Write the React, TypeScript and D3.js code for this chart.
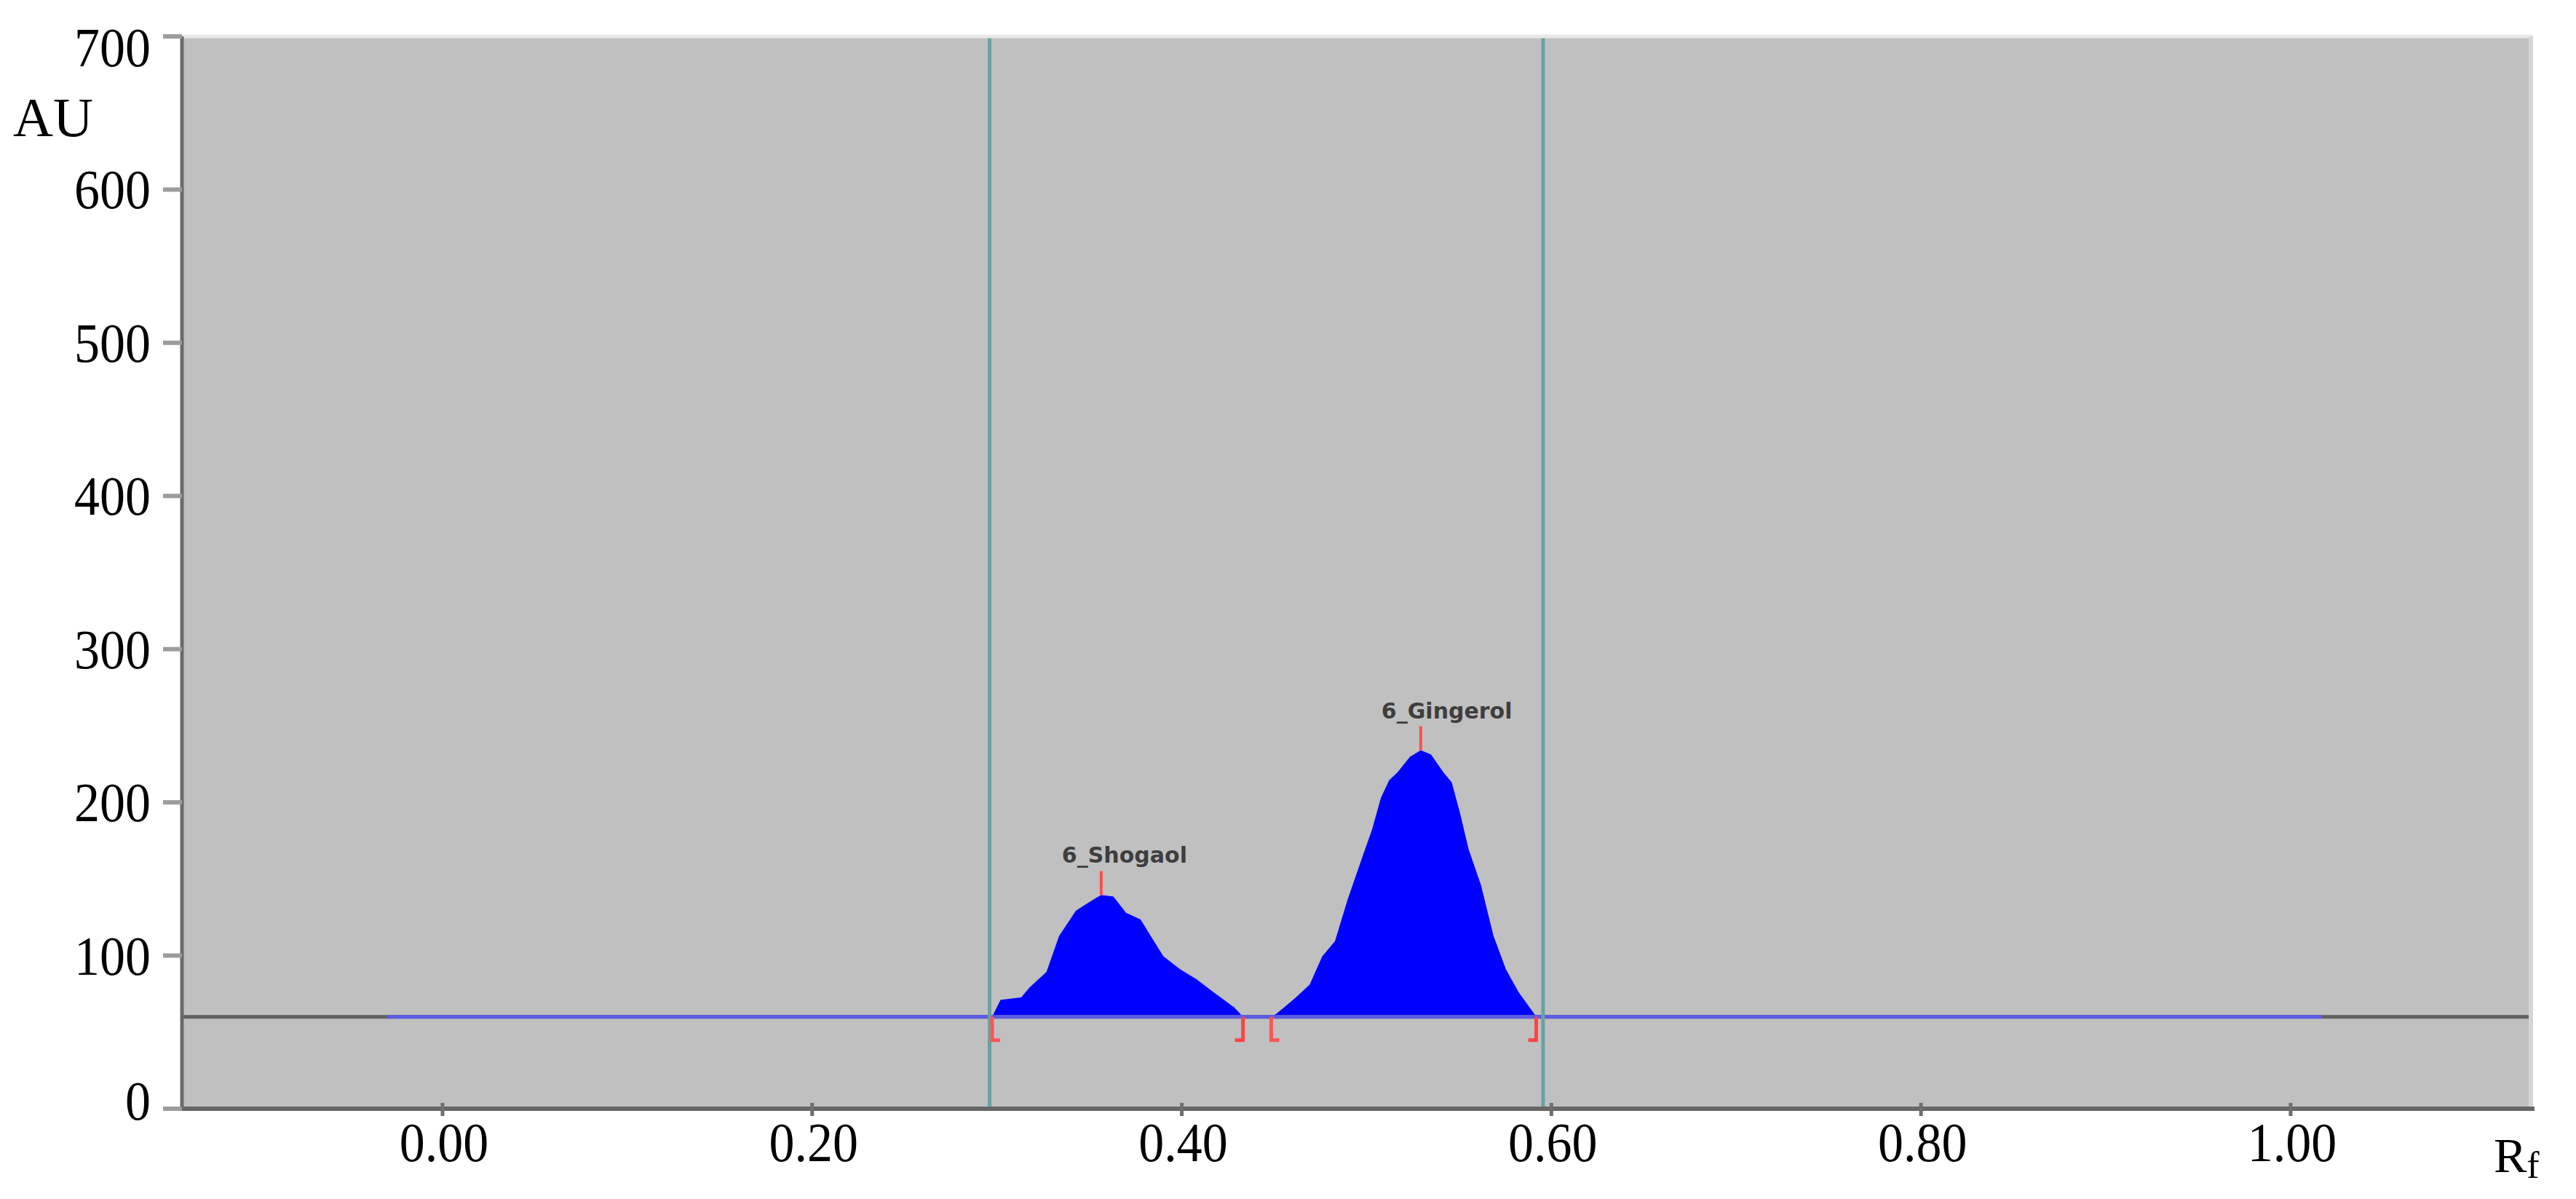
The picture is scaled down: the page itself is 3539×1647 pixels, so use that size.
import React from 'react';
import * as d3 from 'd3';

// Densitogram values (Rf vs AU)
const baselineAU = 60;
const scanRange = [-0.03, 1.017];
const windowLines = [0.296, 0.5955];

const shogaolRf = [0.2974, 0.3019, 0.3131, 0.3178, 0.3268, 0.3336, 0.3427, 0.3471, 0.354, 0.3564, 0.363, 0.3698, 0.3777, 0.3832, 0.3901, 0.3992, 0.4082, 0.4172, 0.4285, 0.4331];
const shogaolAU = [60, 71, 72.7, 79.4, 89.4, 112.7, 129.3, 132.7, 137.9, 139.5, 138.5, 128, 123.6, 112.7, 99.4, 91, 84.4, 76, 66, 60];

const gingerolRf = [0.4484, 0.4512, 0.4602, 0.4692, 0.476, 0.4829, 0.4896, 0.4963, 0.5031, 0.5077, 0.5122, 0.5167, 0.5234, 0.5293, 0.5349, 0.5416, 0.5461, 0.5506, 0.5552, 0.5619, 0.5687, 0.5754, 0.5823, 0.5902, 0.5918];
const gingerolAU = [60, 62, 71, 81, 99.4, 109.4, 136, 159.4, 182.8, 202.8, 214.5, 219.5, 229.7, 234, 231.2, 219.5, 213, 192.8, 169.4, 146, 112.7, 91, 76, 62.8, 60];

const peakNames = ['6_Shogaol', '6_Gingerol'];

const xTicks = [0, 0.2, 0.4, 0.6, 0.8, 1.0];
const yTicks = [0, 100, 200, 300, 400, 500, 600, 700];

const W = 3539;
const H = 1647;
const margin = { top: 50, right: 62, bottom: 124, left: 250 };

const serif = '"Liberation Serif", "Times New Roman", serif';

export default function App() {
  const x = d3.scaleLinear().domain([-0.141, 1.13]).range([margin.left, W - margin.right]);
  const y = d3.scaleLinear().domain([0, 700]).range([H - margin.bottom, margin.top]);

  const peaks = [
    { name: peakNames[0], pts: shogaolRf.map((r, i) => [r, shogaolAU[i]]) },
    { name: peakNames[1], pts: gingerolRf.map((r, i) => [r, gingerolAU[i]]) },
  ];

  const area = d3
    .area<number[]>()
    .x((d) => x(d[0]))
    .y0(y(baselineAU))
    .y1((d) => y(d[1]));

  const x0 = margin.left;
  const x1 = W - margin.right;
  const yTop = margin.top;
  const yBot = H - margin.bottom;
  const yBase = y(baselineAU);

  return (
    <svg width={W} height={H} style={{ position: 'absolute', left: 0, top: 0, display: 'block' }}>
      <rect x={0} y={0} width={W} height={H} fill="#ffffff" />
      {/* plot background */}
      <rect x={x0} y={yTop} width={x1 - x0} height={yBot - yTop} fill="#c0c0c0" />

      {/* peaks */}
      {peaks.map((p) => (
        <path key={p.name} d={area(p.pts) || ''} fill="#0000ff" />
      ))}

      {/* baseline */}
      <line x1={x0} x2={x1} y1={yBase} y2={yBase} stroke="#606060" strokeWidth={5} />
      <line x1={x(scanRange[0])} x2={x(scanRange[1])} y1={yBase} y2={yBase} stroke="#5b5be6" strokeWidth={5} />

      {/* integration window lines */}
      {windowLines.map((v) => (
        <line key={v} x1={x(v)} x2={x(v)} y1={yTop} y2={yBot} stroke="#68a2a2" strokeWidth={5} />
      ))}

      {/* peak markers + labels */}
      {peaks.map((p) => {
        const start = p.pts[0];
        const end = p.pts[p.pts.length - 1];
        const apex = p.pts.reduce((a, b) => (b[1] > a[1] ? b : a));
        const ax = x(apex[0]);
        const ay = y(apex[1]);
        return (
          <g key={p.name + 'm'}>
            <line x1={ax} x2={ax} y1={ay} y2={ay - 33} stroke="#ff4d4d" strokeWidth={4} />
            <path
              d={`M${x(start[0])},${yBase}V${yBase + 32}H${x(start[0]) + 11}`}
              fill="none"
              stroke="#ff5555"
              strokeWidth={5}
            />
            <path
              d={`M${x(end[0])},${yBase}V${yBase + 32}H${x(end[0]) - 11}`}
              fill="none"
              stroke="#ff4444"
              strokeWidth={5}
            />
            <text
              x={ax - 54}
              y={ay - 44}
              fontFamily='"DejaVu Sans", Verdana, sans-serif'
              fontWeight="bold"
              fontSize={30}
              fill="#3e3e3e"
            >
              {p.name}
            </text>
          </g>
        );
      })}

      {/* frame */}
      <line x1={x0} x2={x1 + 3} y1={yTop} y2={yTop} stroke="#e8e8e8" strokeWidth={5} />
      <line x1={x1} x2={x1} y1={yTop} y2={yBot} stroke="#d6d6d6" strokeWidth={6} />
      <line x1={x0} x2={x1 + 5} y1={yBot} y2={yBot} stroke="#666666" strokeWidth={6} />
      <line x1={x0} x2={x0} y1={yTop} y2={yBot + 3} stroke="#6a6a6a" strokeWidth={5} />

      {/* y axis */}
      {yTicks.map((t) => {
        const cy = Math.min(Math.max(y(t), 65), 1512);
        return (
          <g key={'y' + t}>
            <line x1={x0 - 26} x2={x0} y1={y(t)} y2={y(t)} stroke="#9c9c9c" strokeWidth={6} />
            <text
              transform={`translate(207,${cy + 26}) scale(1,1.1)`}
              textAnchor="end"
              fontFamily={serif}
              fontSize={70}
              fill="#000"
            >
              {t}
            </text>
          </g>
        );
      })}

      {/* x axis */}
      {xTicks.map((t) => (
        <g key={'x' + t}>
          <line x1={x(t)} x2={x(t)} y1={yBot - 8} y2={yBot + 10} stroke="#6e6e6e" strokeWidth={5} />
          <text
            transform={`translate(${x(t) + 2},1595) scale(1,1.1)`}
            textAnchor="middle"
            fontFamily={serif}
            fontSize={70}
            fill="#000"
          >
            {t.toFixed(2)}
          </text>
        </g>
      ))}

      {/* axis titles */}
      <text x={18} y={187} fontFamily={serif} fontSize={76} fill="#000">
        AU
      </text>
      <text x={3426} y={1610} fontFamily={serif} fontSize={68} fill="#000">
        R
        <tspan fontSize={52} dy={8}>
          f
        </tspan>
      </text>
    </svg>
  );
}
